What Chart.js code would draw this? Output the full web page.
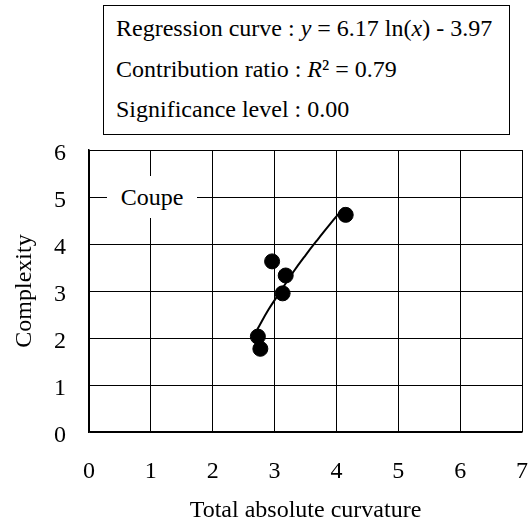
<!DOCTYPE html>
<html>
<head>
<meta charset="utf-8">
<script src="https://cdn.jsdelivr.net/npm/chart.js@4"></script>
<style>
    body { margin: 0; background: #fff; }
    #wrap { position: relative; width: 532px; height: 521px; }
    #infoBox {
        position: absolute; left: 103px; top: 5px; width: 407px; height: 130px;
        box-sizing: border-box; border: 1px solid #000; background: #fff;
        padding: 2px 0 0 12px;
        font-family: "Liberation Serif", "Times New Roman", serif; font-size: 24px;
        line-height: 40.5px; color: #000; white-space: nowrap;
    }
    #coupe {
        position: absolute; left: 107px; top: 176px; width: 90px; height: 42px;
        background: #fff; text-align: center;
        font-family: "Liberation Serif", "Times New Roman", serif; font-size: 24px;
        line-height: 42px; color: #000;
    }
</style>
</head>
<body>
<div id="wrap">
    <canvas id="grafico" width="532" height="521"></canvas>
    <div id="infoBox">
        <div>Regression curve : <i>y</i> = 6.17 ln(<i>x</i>) - 3.97</div>
        <div>Contribution ratio : <i>R</i>² = 0.79</div>
        <div>Significance level : 0.00</div>
    </div>
    <div id="coupe">Coupe</div>
</div>
<script>
// Pontos medidos (Coupe)
const curvatura = [2.96, 3.18, 3.13, 2.73, 2.77, 4.15];
const complexidade = [3.63, 3.33, 2.95, 2.03, 1.77, 4.62];

// Curva de regressão
const curvaX = [2.72, 2.9, 3.1, 3.3, 3.5, 3.7, 3.9, 4.12];
const curvaY = [2.18, 2.60, 3.00, 3.40, 3.76, 4.10, 4.43, 4.77];

const ticksX = [0, 1, 2, 3, 4, 5, 6, 7];
const ticksY = [0, 1, 2, 3, 4, 5, 6];

const fonte = { family: '"Liberation Serif", "Times New Roman", serif', size: 24 };

const ctx = document.getElementById('grafico').getContext('2d');
new Chart(ctx, {
    type: 'scatter',
    data: {
        datasets: [{
            label: 'Regression',
            type: 'line',
            data: curvaX.map((x, i) => ({ x: x, y: curvaY[i] })),
            borderColor: '#000',
            borderWidth: 2,
            pointRadius: 0,
            tension: 0.4,
            fill: false
        }, {
            label: 'Coupe',
            data: curvatura.map((x, i) => ({ x: x, y: complexidade[i] })),
            backgroundColor: '#000',
            borderColor: '#000',
            pointRadius: 7.5,
            pointHoverRadius: 7.5
        }]
    },
    options: {
        responsive: false,
        animation: false,
        devicePixelRatio: 1,
        layout: { padding: { top: 150, right: 10, left: 0, bottom: 0 } },
        plugins: { legend: { display: false }, tooltip: { enabled: false } },
        scales: {
            x: {
                type: 'linear',
                min: ticksX[0],
                max: ticksX[ticksX.length - 1],
                afterBuildTicks: s => { s.ticks = ticksX.map(v => ({ value: v })); },
                afterFit: s => { s.height = 89; },
                // padding pequeno (entra na margem lateral); desce o texto pelo lineHeight
                ticks: { color: '#000', font: { ...fonte, lineHeight: 2.94 }, padding: 4, maxRotation: 0 },
                grid: { color: '#000', lineWidth: 1, drawTicks: false },
                border: { color: '#000', width: 1.5 },
                title: {
                    display: true,
                    text: 'Total absolute curvature',
                    color: '#000',
                    font: { ...fonte, lineHeight: 0.85 },
                    padding: { top: 0, bottom: 0 }
                }
            },
            y: {
                min: ticksY[0],
                max: ticksY[ticksY.length - 1],
                afterBuildTicks: s => { s.ticks = ticksY.map(v => ({ value: v })); },
                afterFit: s => { s.width = 89; },
                // linha vazia antes do número para descer o rótulo uns 3px
                ticks: {
                    color: '#000',
                    font: { ...fonte, lineHeight: 0.3 },
                    padding: 23,
                    callback: v => ['', String(v)]
                },
                grid: { color: '#000', lineWidth: 1, drawTicks: false },
                border: { color: '#000', width: 1.5 },
                title: {
                    display: true,
                    text: 'Complexity',
                    color: '#000',
                    font: { ...fonte, lineHeight: 1 },
                    padding: { top: 13, bottom: 0 }
                }
            }
        }
    }
});
</script>
</body>
</html>
